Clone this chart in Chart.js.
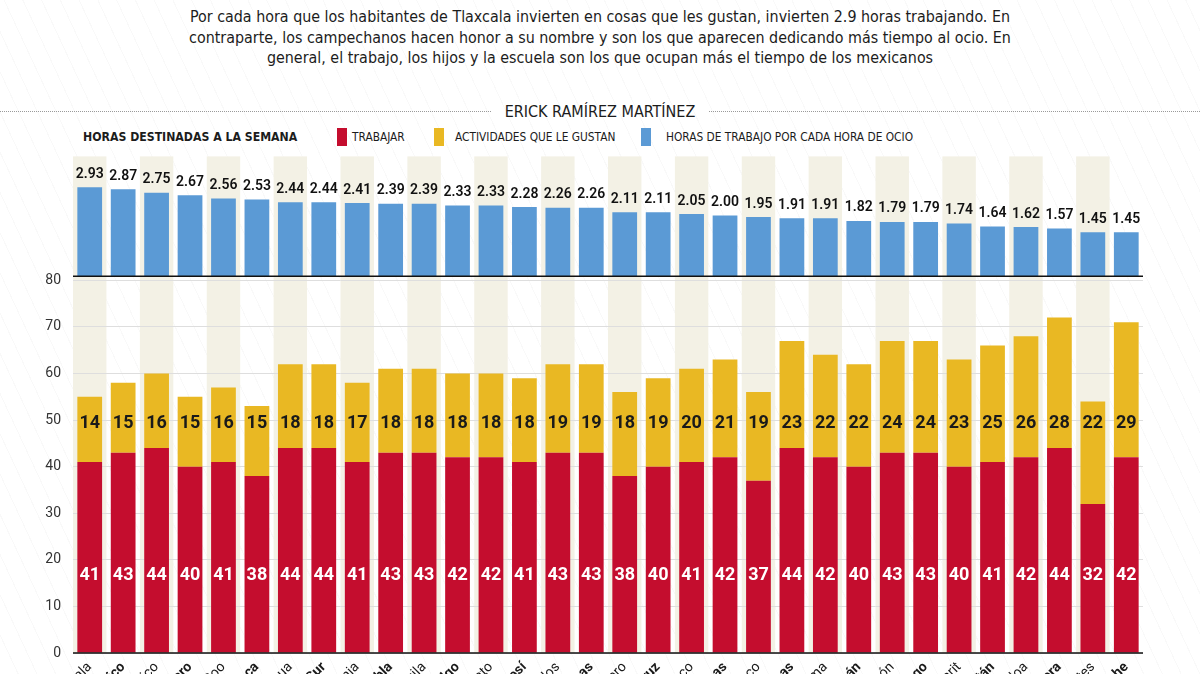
<!DOCTYPE html>
<html lang="es">
<head>
<meta charset="UTF-8">
<title>Horas destinadas a la semana</title>
<script src="https://cdn.jsdelivr.net/npm/chart.js"></script>
<style>
  body {
    margin: 0;
    width: 1200px;
    height: 674px;
    overflow: hidden;
    position: relative;
    background: #fff repeating-linear-gradient(65deg, transparent 0 16px, rgba(0,0,0,0.022) 16px 17px);
    font-family: "Liberation Sans Narrow", "DejaVu Sans Condensed", Roboto, sans-serif;
    color: #1c1c1c;
  }
  .intro {
    position: absolute; top: 7px; left: 0; width: 1200px;
    text-align: center; font-size: 15.9px; line-height: 20.5px; white-space: nowrap;
  }
  .byline {
    position: absolute; top: 101px; left: 0; width: 1200px; height: 20px;
    display: flex; align-items: center; font-size: 16px;
  }
  .byline .dots { flex: 1; border-top: 1px dotted #9a9a9a; }
  .byline span { padding: 0 14px; }
  .leg { position: absolute; top: 130px; font-size: 11.8px; white-space: nowrap; }
  .leg.head { font-weight: bold; font-size: 12.2px; }
  .sw { position: absolute; top: 128px; width: 10px; height: 18px; }
  #wrap { position: absolute; left: 0; top: 136px; width: 1200px; height: 538px; }
</style>
</head>
<body>
  <div class="intro">
    Por cada hora que los habitantes de Tlaxcala invierten en cosas que les gustan, invierten 2.9 horas trabajando. En<br>
    contraparte, los campechanos hacen honor a su nombre y son los que aparecen dedicando más tiempo al ocio. En<br>
    general, el trabajo, los hijos y la escuela son los que ocupan más el tiempo de los mexicanos
  </div>
  <div class="byline"><div class="dots"></div><span>ERICK RAMÍREZ MARTÍNEZ</span><div class="dots"></div></div>

  <div class="leg head" style="left:83px">HORAS DESTINADAS A LA SEMANA</div>
  <div class="sw" style="left:337px;background:#c40d2e"></div>
  <div class="leg" style="left:352px">TRABAJAR</div>
  <div class="sw" style="left:434px;background:#e9b823"></div>
  <div class="leg" style="left:455px">ACTIVIDADES QUE LE GUSTAN</div>
  <div class="sw" style="left:641px;background:#5b9ad5"></div>
  <div class="leg" style="left:666px">HORAS DE TRABAJO POR CADA HORA DE OCIO</div>

  <div id="wrap"><canvas id="horasChart"></canvas></div>

<script>
// datos
const estados = ['Tlaxcala', 'Ciudad de México', 'Estado de México', 'Querétaro', 'Quintana Roo', 'Oaxaca',
  'Chihuahua', 'Baja California Sur', 'Baja California', 'Puebla', 'Coahuila', 'Hidalgo', 'Guanajuato',
  'San Luis Potosí', 'Morelos', 'Chiapas', 'Guerrero', 'Veracruz', 'Jalisco', 'Tamaulipas', 'Tabasco',
  'Zacatecas', 'Colima', 'Michoacán', 'Nuevo León', 'Durango', 'Nayarit', 'Yucatán', 'Sinaloa', 'Sonora',
  'Aguascalientes', 'Campeche'];
const horasTrabajo = [41, 43, 44, 40, 41, 38, 44, 44, 41, 43, 43, 42, 42, 41, 43, 43,
  38, 40, 41, 42, 37, 44, 42, 40, 43, 43, 40, 41, 42, 44, 32, 42];
const horasGusto = [14, 15, 16, 15, 16, 15, 18, 18, 17, 18, 18, 18, 18, 18, 19, 19,
  18, 19, 20, 21, 19, 23, 22, 22, 24, 24, 23, 25, 26, 28, 22, 29];
const ratioOcio = [2.93, 2.87, 2.75, 2.67, 2.56, 2.53, 2.44, 2.44, 2.41, 2.39, 2.39, 2.33, 2.33, 2.28, 2.26, 2.26,
  2.11, 2.11, 2.05, 2.00, 1.95, 1.91, 1.91, 1.82, 1.79, 1.79, 1.74, 1.64, 1.62, 1.57, 1.45, 1.45];
const ticksHoras = [0, 10, 20, 30, 40, 50, 60, 70, 80];

const rojo = '#c40d2e';
const amarillo = '#e9b823';
const azul = '#5b9ad5';
const franja = '#f3f1e5';
const numFont = 'Roboto, "Open Sans", sans-serif';

Chart.defaults.font.family = numFont;

// franjas alternas detras de las barras
const franjas = {
  id: 'franjas',
  beforeDraw(chart) {
    const { ctx, chartArea, scales: { x } } = chart;
    const w = x.width / estados.length;
    ctx.save();
    ctx.fillStyle = franja;
    estados.forEach((e, i) => {
      if (i % 2 === 0) {
        const cx = x.getPixelForValue(i);
        ctx.fillRect(cx - w / 2, chartArea.top, w, chartArea.bottom - chartArea.top);
      }
    });
    ctx.restore();
  }
};

// lineas base y etiquetas de valores
const etiquetas = {
  id: 'etiquetas',
  afterDatasetsDraw(chart) {
    const { ctx, chartArea, scales: { y, y2 } } = chart;
    ctx.save();
    ctx.strokeStyle = '#111';
    ctx.lineWidth = 1.5;
    [y.getPixelForValue(0), y2.getPixelForValue(0)].forEach(py => {
      ctx.beginPath();
      ctx.moveTo(chartArea.left, py);
      ctx.lineTo(chartArea.right, py);
      ctx.stroke();
    });

    ctx.textAlign = 'center';
    ctx.textBaseline = 'middle';

    ctx.font = '600 14px ' + numFont;
    ctx.fillStyle = '#111';
    chart.getDatasetMeta(2).data.forEach((bar, i) => {
      ctx.fillText(ratioOcio[i].toFixed(2), bar.x, bar.y - 13);
    });

    ctx.font = 'bold 18px ' + numFont;
    ctx.fillStyle = '#fff';
    const yRojo = y.getPixelForValue(16.7);
    chart.getDatasetMeta(0).data.forEach((bar, i) => {
      ctx.fillText(horasTrabajo[i], bar.x, yRojo);
    });
    ctx.fillStyle = '#1a1a1a';
    const yAmarillo = y.getPixelForValue(49.2);
    chart.getDatasetMeta(1).data.forEach((bar, i) => {
      ctx.fillText(horasGusto[i], bar.x, yAmarillo);
    });
    ctx.restore();
  }
};

const ctx = document.getElementById('horasChart').getContext('2d');
new Chart(ctx, {
  type: 'bar',
  data: {
    labels: estados,
    datasets: [
      { label: 'Trabajar', data: horasTrabajo, backgroundColor: rojo, yAxisID: 'y', stack: 'edo' },
      { label: 'Actividades que le gustan', data: horasGusto, backgroundColor: amarillo, yAxisID: 'y', stack: 'edo' },
      { label: 'Horas de trabajo por cada hora de ocio', data: ratioOcio, backgroundColor: azul, yAxisID: 'y2', stack: 'edo' }
    ]
  },
  options: {
    responsive: true,
    maintainAspectRatio: false,
    animation: false,
    barPercentage: 0.74,
    categoryPercentage: 1,
    layout: { padding: { left: 0, right: 57, top: 5, bottom: 0 } },
    plugins: {
      legend: { display: false },
      tooltip: { enabled: false }
    },
    scales: {
      x: {
        stacked: true,
        grid: { display: false, drawTicks: false },
        border: { display: false },
        ticks: {
          autoSkip: false,
          minRotation: 45,
          maxRotation: 45,
          padding: 6,
          color: '#1a1a1a',
          font: c => ({ size: 14, weight: c.index % 2 ? 'bold' : 'normal' })
        },
        afterFit(scale) { scale.height = 21; }
      },
      y: {
        stacked: true,
        min: 0,
        max: 106.6,
        afterBuildTicks(scale) { scale.ticks = ticksHoras.map(v => ({ value: v })); },
        afterFit(scale) { scale.width = 73; },
        grid: { color: '#dedede', drawTicks: false },
        border: { display: false },
        ticks: { padding: 12, color: '#333', font: { size: 14 } }
      },
      y2: {
        display: false,
        min: -12.43,
        max: 3.95
      }
    }
  },
  plugins: [franjas, etiquetas]
});
</script>
</body>
</html>
